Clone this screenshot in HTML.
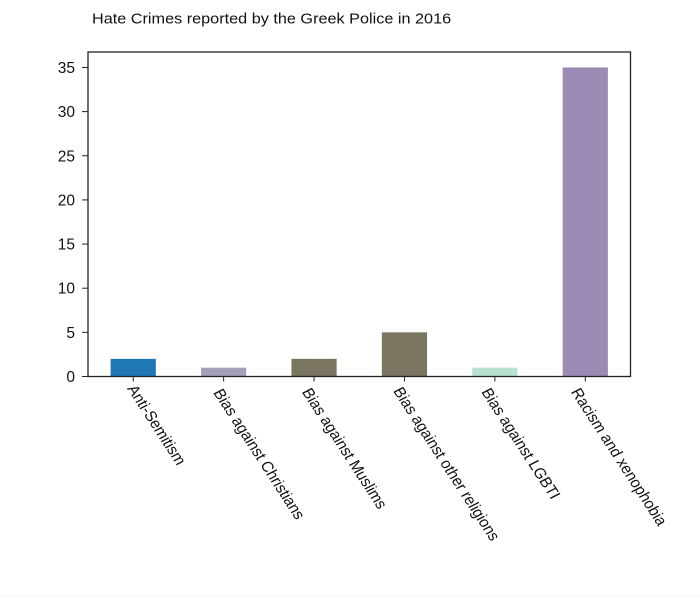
<!DOCTYPE html>
<html>
<head>
<meta charset="utf-8">
<style>
html,body{margin:0;padding:0;background:#fff;}
svg{display:block;}
text{font-family:"Liberation Sans",sans-serif;fill:#111;}
</style>
</head>
<body>
<svg id="chart" width="700" height="600" viewBox="0 0 700 600" xmlns="http://www.w3.org/2000/svg">
  <rect x="0" y="0" width="700" height="600" fill="#ffffff"/>
  <line x1="0" x2="700" y1="595.5" y2="595.5" stroke="#f5f5f5" stroke-width="1"/>
  <text transform="translate(92 23.6) scale(1.083 1)" font-size="15">Hate Crimes reported by the Greek Police in 2016</text>
  <g id="bars"></g>
  <g id="yaxis"></g>
  <g id="xaxis"></g>
  <rect x="88" y="52" width="542.5" height="324.5" fill="none" stroke="#222" stroke-width="1.3"/>
</svg>
<script>
const categories = ["Anti-Semitism", "Bias against Christians", "Bias against Muslims", "Bias against other religions", "Bias against LGBTI", "Racism and xenophobia"];
const counts = [2, 1, 2, 5, 1, 35];
const barColors = ["#1f77b4", "#a5a0b8", "#7a7560", "#7a7560", "#b8e2d0", "#9b8ab4"];
const yTicks = [0, 5, 10, 15, 20, 25, 30, 35];

const NS = "http://www.w3.org/2000/svg";
const plot = {left: 88, right: 630.5, top: 52, bottom: 376.5};
const yMax = Math.max(...counts) * 1.05;
const xScale = i => plot.left + (i + 0.5) * (plot.right - plot.left) / categories.length;
const yScale = v => plot.bottom - v * (plot.bottom - plot.top) / yMax;
const barWidth = 0.5 * (plot.right - plot.left) / categories.length;

function make(tag, attrs, parent) {
  const el = document.createElementNS(NS, tag);
  for (const k in attrs) el.setAttribute(k, attrs[k]);
  parent.appendChild(el);
  return el;
}

const barsG = document.getElementById("bars");
const xG = document.getElementById("xaxis");
const yG = document.getElementById("yaxis");

categories.forEach((cat, i) => {
  const cx = xScale(i);
  const top = yScale(counts[i]);
  const bar = make("rect", {x: cx - barWidth / 2, y: top, width: barWidth, height: plot.bottom - top, fill: barColors[i]}, barsG);
  
  

  const tick = make("line", {x1: cx, x2: cx, y1: plot.bottom, y2: plot.bottom + 5, stroke: "#222", "stroke-width": 1}, xG);
  
  

  // Rotated label anchor: small per-label layout nudges relative to the tick.
  const nudgeX = [-6.5, -10.7, -12.5, -11.7, -14, -14.8][i];
  const baseY = [388.5, 392.5, 391.8, 390.8, 391.8, 391.8][i];
  const lx = cx + nudgeX;
  const ly = baseY;
  const label = make("text", {"font-size": 15.3, transform: "translate(" + lx + " " + ly + ") scale(1.07 0.95) rotate(60)"}, xG);
  label.textContent = cat;
  
  
});

yTicks.forEach(v => {
  const y = yScale(v);
  const tick = make("line", {x1: plot.left - 6, x2: plot.left, y1: y, y2: y, stroke: "#222", "stroke-width": 1}, yG);
  
  

  const label = make("text", {x: plot.left - 13, y: y + 5.5, "text-anchor": "end", "font-size": 15.5}, yG);
  label.textContent = v;
  
  
});
</script>
</body>
</html>
